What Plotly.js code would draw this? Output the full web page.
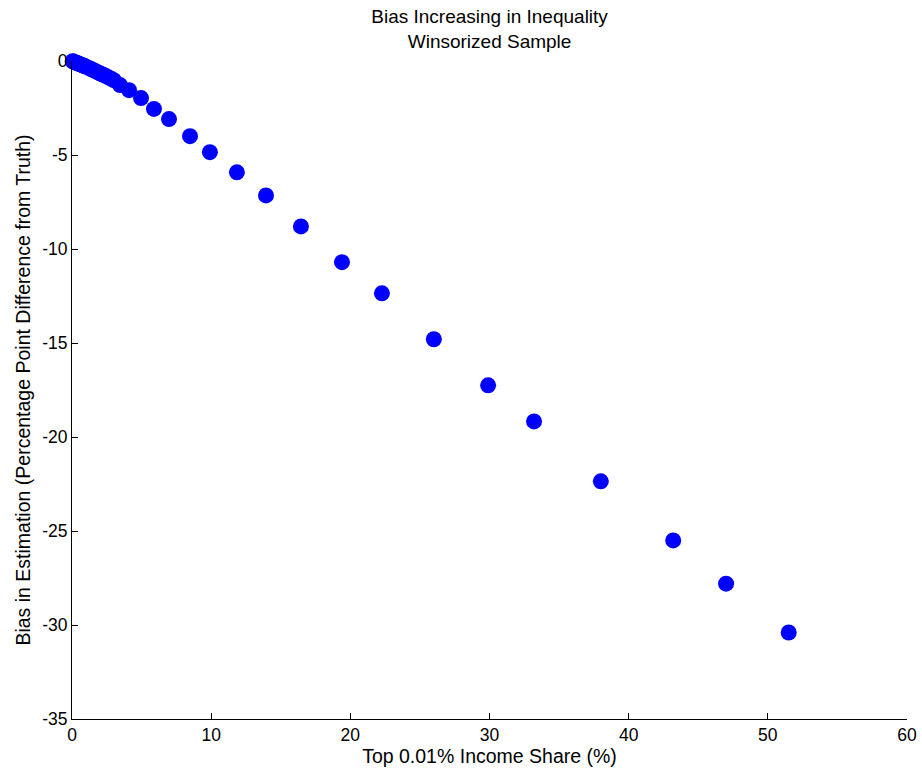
<!DOCTYPE html>
<html><head><meta charset="utf-8">
<script src="https://cdn.plot.ly/plotly-3.0.1.min.js"></script>
<style>html,body{margin:0;padding:0;background:#fff;}#chart{width:922px;height:774px;}</style>
</head><body><div id="chart"></div>
<script>
const incomeShare = [0.05,0.1,0.2,0.3,0.4,0.5,0.6,0.7,0.8,0.9,1.0,1.2,1.4,1.6,1.8,2.0,2.2,2.4,2.6,2.8,3.0,3.45,4.1,4.96,5.89,6.97,8.48,9.91,11.85,13.94,16.45,19.4,22.27,26.0,29.9,33.2,38.0,43.2,47.0,51.5];
const bias = [-0.01,-0.03,-0.06,-0.09,-0.12,-0.15,-0.18,-0.21,-0.24,-0.27,-0.3,-0.37,-0.44,-0.51,-0.58,-0.65,-0.72,-0.79,-0.86,-0.94,-1.02,-1.28,-1.55,-1.97,-2.55,-3.09,-4.0,-4.85,-5.92,-7.15,-8.8,-10.7,-12.36,-14.8,-17.25,-19.17,-22.36,-25.5,-27.8,-30.4];
const xTicks = [0,10,20,30,40,50,60];
const yTicks = [0,-5,-10,-15,-20,-25,-30,-35];

const font = {family: 'Liberation Sans, Arial, sans-serif', color: '#000'};
Plotly.newPlot('chart', [{
  x: incomeShare, y: bias, type: 'scatter', mode: 'markers',
  marker: {color: '#0000ff', size: 16, line: {width: 0}},
  cliponaxis: false, hoverinfo: 'none'
}], {
  width: 922, height: 774,
  margin: {l: 72, r: 15, t: 61, b: 55},
  paper_bgcolor: '#fff', plot_bgcolor: '#fff',
  showlegend: false,
  title: {text: 'Bias Increasing in Inequality<br>Winsorized Sample', x: 0.531, xanchor: 'center', y: 0.970, yanchor: 'top', font: Object.assign({size: 19}, font)},
  xaxis: {range: [0, 60], tickvals: xTicks, ticktext: xTicks.map(String), ticks: 'inside', ticklen: 6, tickcolor: '#000', showline: true, linecolor: '#000', linewidth: 1, showgrid: false, zeroline: false, tickfont: Object.assign({size: 17.5}, font), title: {text: 'Top 0.01% Income Share (%)', font: Object.assign({size: 19.5}, font), standoff: 4}},
  yaxis: {range: [-35, 0], tickvals: yTicks, ticktext: yTicks.map(String), ticks: 'inside', ticklen: 6, tickcolor: '#000', showline: true, linecolor: '#000', linewidth: 1, showgrid: false, zeroline: false, tickfont: Object.assign({size: 17.5}, font), title: {text: 'Bias in Estimation (Percentage Point Difference from Truth)', font: Object.assign({size: 19.5}, font), standoff: 6}}
}, {staticPlot: true});
</script></body></html>
